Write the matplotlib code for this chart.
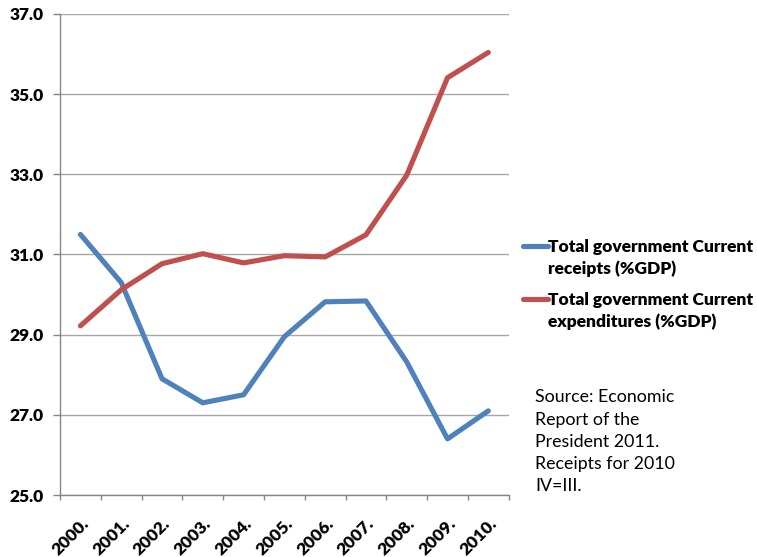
import numpy as np
import matplotlib
matplotlib.use("Agg")
import matplotlib.pyplot as plt
from matplotlib.lines import Line2D
from matplotlib.ticker import FixedLocator

plt.rcParams['font.family'] = ['Lato', 'DejaVu Sans']

years = ['2000.', '2001.', '2002.', '2003.', '2004.', '2005.',
         '2006.', '2007.', '2008.', '2009.', '2010.']
receipts = [31.5, 30.3, 27.9, 27.3, 27.5, 28.95, 29.82, 29.84, 28.32, 26.4, 27.1]
expenditures = [29.22, 30.12, 30.77, 31.02, 30.79, 30.97, 30.94, 31.49, 32.98, 35.41, 36.04]
yticks = [25.0, 27.0, 29.0, 31.0, 33.0, 35.0, 37.0]
series_names = ['Total government Current\nreceipts (%GDP)',
                'Total government Current\nexpenditures (%GDP)']

fig = plt.figure(figsize=(7.57, 5.57), dpi=100)
ax = fig.add_axes([0.0793, 0.1113, 0.5927, 0.8636])

x = np.arange(len(years))
l1, = ax.plot(x, receipts, color='#4F81BD', lw=3.7, solid_capstyle='round',
              solid_joinstyle='round')
l2, = ax.plot(x, expenditures, color='#C0504D', lw=3.7, solid_capstyle='round',
              solid_joinstyle='round')

ax.set_xlim(-0.5, len(years) - 0.5)
ax.set_ylim(25, 37)
ax.set_yticks(yticks)
ax.set_yticklabels([f'{v:.1f}' for v in yticks], fontsize=12.5, fontweight='heavy')
ax.set_xticks(x)
ax.set_xticklabels(years, rotation=45, ha='right', va='top', rotation_mode='anchor',
                   fontsize=12.5, fontweight='heavy')
ax.tick_params(axis='x', which='major', length=0, pad=15)
ax.xaxis.set_minor_locator(FixedLocator(np.arange(-0.5, len(years), 1.0)))
ax.tick_params(axis='x', which='minor', length=3.6, color='#868686', width=1)
ax.tick_params(axis='y', length=5, color='#868686', width=1, pad=7)

ax.grid(axis='y', color='#a6a6a6', lw=1)
ax.set_axisbelow(True)
for s in ['top', 'right']:
    ax.spines[s].set_visible(False)
for s in ['left', 'bottom']:
    ax.spines[s].set_color('#868686')
    ax.spines[s].set_linewidth(1)

# legend drawn by hand: handle sits on the first text line, like Excel does
W, H = 757, 557
for line, name, ytop in [(l1, series_names[0], 246), (l2, series_names[1], 299)]:
    fig.add_artist(Line2D([523 / W, 548 / W], [1 - ytop / H] * 2, transform=fig.transFigure,
                          color=line.get_color(), lw=3.7, solid_capstyle='round'))
    fig.text(548 / W, 1 - (ytop - 7) / H, name, fontsize=12.5, fontweight='heavy',
             va='top', ha='left', linespacing=1.4)

fig.text(0.707, 0.207, 'Source: Economic\nReport of the\nPresident 2011.\nReceipts for 2010\nIV=III.',
         fontsize=12.8, va='center', ha='left', linespacing=1.47)

fig.savefig('out.png', dpi=100)
